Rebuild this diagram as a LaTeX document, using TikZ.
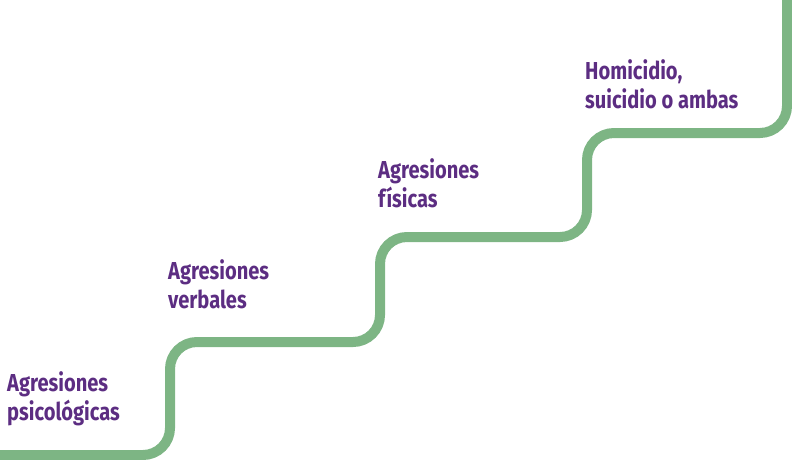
\documentclass[tikz,border=0pt]{standalone}
\usepackage{fontspec}
\setmainfont{Fira Sans}[FakeStretch=0.82]
\definecolor{stairgreen}{HTML}{7DB584}
\definecolor{labelpurple}{HTML}{5C2D82}
\begin{document}
\begin{tikzpicture}[x=1pt,y=1pt,
  stair/.style={draw=stairgreen,line width=10pt,rounded corners=27pt},
  steplabel/.style={anchor=base west,inner sep=0pt,align=left,text=labelpurple,
    font=\bfseries\fontsize{24.5}{28.5}\selectfont}]
\useasboundingbox (0,0) rectangle (792,459);
% staircase (y = 459 - pixel row)
\path[stair] (-10,4) -- (170,4) -- (170,117) -- (380,117) -- (380,222)
  -- (587,222) -- (587,326) -- (787,326) -- (787,470);
\node[steplabel] (l1) at (7,39) {Agresiones\\psicológicas};
\node[steplabel] (l2) at (168,151) {Agresiones\\verbales};
\node[steplabel] (l3) at (378,252) {Agresiones\\físicas};
\node[steplabel] (l4) at (585,351) {Homicidio,\\suicidio o ambas};
\end{tikzpicture}
\end{document}
